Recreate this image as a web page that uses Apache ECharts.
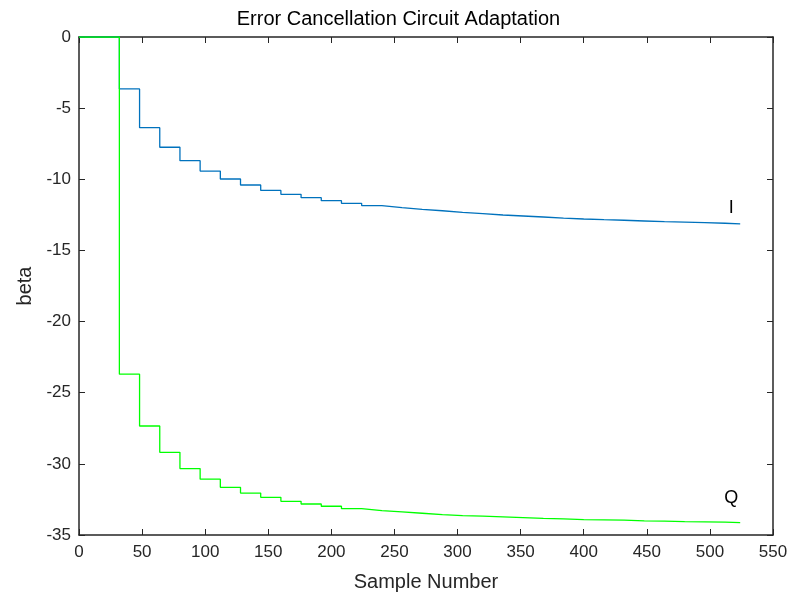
<!DOCTYPE html>
<html>
<head>
<meta charset="utf-8">
<script src="https://cdn.jsdelivr.net/npm/echarts@6/dist/echarts.min.js"></script>
<style>html,body{margin:0;padding:0;background:#fff}#c{width:797px;height:594px}</style>
</head>
<body>
<div id="c"></div>
<script>
// Sample numbers where each new level begins, and the final sample
var stepStarts = [32,48,64,80,96,112,128,144,160,176,192,208,224,240,256,272,288,304,320,336,352,368,384,400,416,432,448,464,480,496,512];
var lastSample = 524;
var levelsI = [-3.65,-6.37,-7.75,-8.69,-9.42,-9.98,-10.4,-10.78,-11.06,-11.29,-11.5,-11.69,-11.85,-11.99,-12.12,-12.21,-12.32,-12.41,-12.51,-12.58,-12.65,-12.73,-12.79,-12.84,-12.88,-12.93,-12.98,-13.01,-13.05,-13.09,-13.14];
var levelsQ = [-23.7,-27.34,-29.19,-30.33,-31.08,-31.65,-32.05,-32.35,-32.63,-32.82,-32.98,-33.15,-33.29,-33.38,-33.47,-33.57,-33.64,-33.68,-33.73,-33.78,-33.83,-33.87,-33.92,-33.94,-33.96,-34.01,-34.03,-34.06,-34.08,-34.1,-34.13];
var xTicks = [0,50,100,150,200,250,300,350,400,450,500,550];
var yTicks = [0,-5,-10,-15,-20,-25,-30,-35];
var labelI = {name:'I', coord:[517,-12.0]};
var labelQ = {name:'Q', coord:[517,-32.4]};

// explicit stair points (same samples/levels, drawn through the value axes)
function build(levels){
  var d = [[0,0]];
  var prev = 0;
  for (var i=0;i<stepStarts.length;i++){
    d.push([stepStarts[i], prev]);
    d.push([stepStarts[i], levels[i]]);
    prev = levels[i];
  }
  d.push([lastSample, prev]);
  return d;
}
var font = 'Liberation Sans, Arial, Helvetica, sans-serif';
var axColor = '#262626';
var chart = echarts.init(document.getElementById('c'));
function xAx(pos, show){
  return {type:'value', position:pos, min:xTicks[0], max:xTicks[xTicks.length-1], interval:xTicks[1]-xTicks[0],
    axisLine:{show:true, onZero:false, lineStyle:{color:axColor, width:1.5}},
    axisTick:{show:true, inside:true, length:6, lineStyle:{color:axColor}},
    axisLabel:{show:show, color:'#262626', fontSize:17, fontFamily:font, margin:9},
    splitLine:{show:false},
    name: show ? 'Sample Number' : '', nameLocation:'middle', nameGap:37,
    nameTextStyle:{color:'#262626', fontSize:20, fontFamily:font}};
}
function yAx(pos, show){
  return {type:'value', position:pos, min:yTicks[yTicks.length-1], max:yTicks[0], interval:yTicks[0]-yTicks[1],
    axisLine:{show:true, onZero:false, lineStyle:{color:axColor, width:1.5}},
    axisTick:{show:true, inside:true, length:6, lineStyle:{color:axColor}},
    axisLabel:{show:show, color:'#262626', fontSize:17, fontFamily:font, margin:8},
    splitLine:{show:false},
    name: show ? 'beta' : '', nameLocation:'middle', nameGap:38,
    nameTextStyle:{color:'#262626', fontSize:20, fontFamily:font}};
}
chart.setOption({
  animation:false,
  backgroundColor:'#fff',
  title:{text:'Error Cancellation Circuit Adaptation', left:'center', top:4,
    textStyle:{color:'#000', fontSize:20, fontWeight:'normal', fontFamily:font}},
  grid:{left:79, right:24, top:37, bottom:59, containLabel:false, outerBoundsMode:'none'},
  xAxis:[xAx('bottom', true), xAx('top', false)],
  yAxis:[yAx('left', true), yAx('right', false)],
  series:[
    {type:'line', data:build(levelsI), showSymbol:false,
     lineStyle:{color:'#0072BD', width:1.3}, itemStyle:{color:'#0072BD'},
     markPoint:{symbol:'circle', symbolSize:0, data:[{coord:labelI.coord, value:labelI.name}],
       label:{show:true, position:'inside', formatter:labelI.name, color:'#000', fontSize:18, fontFamily:font}}},
    {type:'line', data:build(levelsQ), showSymbol:false,
     lineStyle:{color:'#00FF00', width:1.3}, itemStyle:{color:'#00FF00'},
     markPoint:{symbol:'circle', symbolSize:0, data:[{coord:labelQ.coord, value:labelQ.name}],
       label:{show:true, position:'inside', formatter:labelQ.name, color:'#000', fontSize:18, fontFamily:font}}}
  ]
});
</script>
</body>
</html>
